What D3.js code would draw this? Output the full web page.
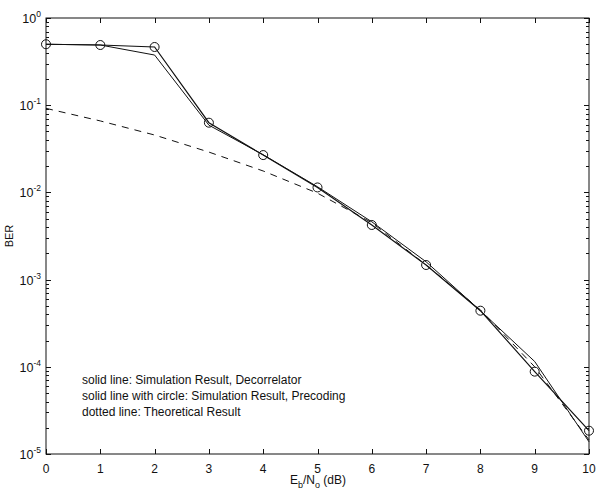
<!DOCTYPE html>
<html><head><meta charset="utf-8">
<script src="https://cdn.jsdelivr.net/npm/d3@7"></script>
<style>body{margin:0;background:#fff}svg{display:block}text{font-family:"Liberation Sans",Arial,sans-serif;fill:#111}</style>
</head><body><svg id="c" width="599" height="490"></svg>
<script>
const ebno = [0,1,2,3,4,5,6,7,8,9,10];
const berDecorrelator = [0.5,0.49,0.376,0.059,0.027,0.0116,0.0046,0.0016,0.00044,0.000115,0.0000138];
const berPrecoding = [0.5,0.49,0.465,0.063,0.0268,0.0114,0.00423,0.00147,0.00044,0.000088,0.0000185];
const berTheory = [0.092,0.066,0.0455,0.029,0.0176,0.0098,0.0045,0.00147,0.00045,0.0001,0.0000145];
const xTicks = [0,1,2,3,4,5,6,7,8,9,10];
const yExps = [0,-1,-2,-3,-4,-5];
const legendLines = ["solid line: Simulation Result, Decorrelator","solid line with circle: Simulation Result, Precoding","dotted line: Theoretical Result"];

const L=46,R=589,T=18,B=454;
const svg=d3.select("#c");
const x=d3.scaleLinear().domain([0,10]).range([L,R]);
const y=d3.scaleLog().domain([1e-5,1]).range([B,T]);
const col="#111";

svg.append("rect").attr("x",L).attr("y",T).attr("width",R-L).attr("height",B-T).attr("fill","none").attr("stroke",col).attr("stroke-width",1);

const xa=svg.append("g");
xTicks.forEach(t=>{
  const px=Math.round(x(t))+0.5;
  xa.append("line").attr("x1",px).attr("x2",px).attr("y1",B).attr("y2",B-5).attr("stroke",col);
  xa.append("line").attr("x1",px).attr("x2",px).attr("y1",T).attr("y2",T+5).attr("stroke",col);
  xa.append("text").attr("x",x(t)).attr("y",B+19).attr("text-anchor","middle").attr("font-size",12).text(t);
});

const ya=svg.append("g");
yExps.forEach(e=>{
  const py=Math.round(y(Math.pow(10,e)))+0.5;
  ya.append("line").attr("x1",L).attr("x2",L+5).attr("y1",py).attr("y2",py).attr("stroke",col);
  ya.append("line").attr("x1",R).attr("x2",R-5).attr("y1",py).attr("y2",py).attr("stroke",col);
  const tx=ya.append("text").attr("x",L-5).attr("y",py+4).attr("text-anchor","end").attr("font-size",12.5);
  tx.append("tspan").text("10");
  tx.append("tspan").attr("dy",-6).attr("font-size",8.5).text(e);
  if(e>-5){
    for(let m=2;m<=9;m++){
      const v=m*Math.pow(10,e-1);
      const my=Math.round(y(v))+0.5;
      ya.append("line").attr("x1",L).attr("x2",L+3).attr("y1",my).attr("y2",my).attr("stroke",col);
      ya.append("line").attr("x1",R).attr("x2",R-3).attr("y1",my).attr("y2",my).attr("stroke",col);
    }
  }
});

const line=d3.line().x(d=>x(d[0])).y(d=>y(d[1]));
const zip=a=>ebno.map((v,i)=>[v,a[i]]);

svg.append("path").datum(zip(berTheory)).attr("d",line).attr("fill","none").attr("stroke",col).attr("stroke-width",1).attr("stroke-dasharray","7,6");
svg.append("path").datum(zip(berDecorrelator)).attr("d",line).attr("fill","none").attr("stroke",col).attr("stroke-width",1);
svg.append("path").datum(zip(berPrecoding)).attr("d",line).attr("fill","none").attr("stroke",col).attr("stroke-width",1.2);
svg.append("g").selectAll("circle").data(zip(berPrecoding)).join("circle")
  .attr("cx",d=>x(d[0])).attr("cy",d=>y(d[1])).attr("r",4.5).attr("fill","none").attr("stroke",col).attr("stroke-width",1);

legendLines.forEach((s,i)=>{
  svg.append("text").attr("x",82).attr("y",384+i*16).attr("font-size",12).text(s);
});

const xl=svg.append("text").attr("x",318).attr("y",484).attr("text-anchor","middle").attr("font-size",12);
xl.append("tspan").text("E");
xl.append("tspan").attr("dy",4).attr("font-size",9).text("b");
xl.append("tspan").attr("dy",-4).text("/N");
xl.append("tspan").attr("dy",4).attr("font-size",9).text("o");
xl.append("tspan").attr("dy",-4).text(" (dB)");
svg.append("text").attr("transform","translate(13,236) rotate(-90)").attr("text-anchor","middle").attr("font-size",11).text("BER");
</script></body></html>
